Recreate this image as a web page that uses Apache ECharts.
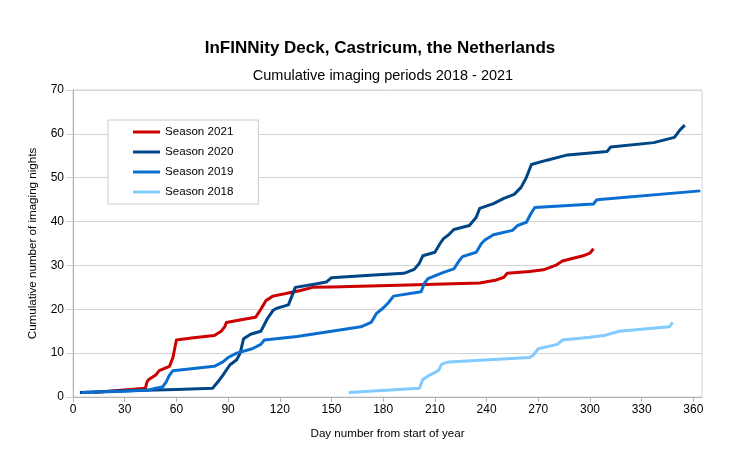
<!DOCTYPE html>
<html>
<head>
<meta charset="UTF-8" />
<title>InFINNity Deck cumulative imaging</title>
<script src="https://cdn.jsdelivr.net/npm/echarts@6/dist/echarts.min.js"></script>
<style>
html, body { margin: 0; padding: 0; background: #fff; }
</style>
</head>
<body>
<div id="chart" style="width: 750px; height: 468px;"></div>
<script>
// season names in legend order
var seasons = ["Season 2021", "Season 2020", "Season 2019", "Season 2018"];

// [day of year, cumulative nights]
var season2021 = [
  [12, 1], [42, 2], [43, 3.5], [44, 4], [48, 5], [50, 6], [56, 7], [58, 9], [59, 11],
  [60, 13], [70, 13.5], [82, 14], [86, 15], [88, 16], [89, 17], [100, 17.8], [106, 18.2],
  [109, 20], [112, 22], [116, 23], [125, 23.7], [132, 24.3], [139, 25], [150, 25.1],
  [200, 25.6], [236, 26], [245, 26.6], [250, 27.3], [252, 28.2], [265, 28.6], [273, 29],
  [280, 30], [284, 31], [296, 32.2], [300, 32.8], [302, 33.8]
];
var season2020 = [
  [4, 1], [30, 1.4], [60, 1.7], [81, 2], [84, 3.4], [87, 5], [91, 7.3], [95, 8.5], [97, 10],
  [99, 13.3], [103, 14.3], [109, 15], [111, 16.5], [113, 18], [116, 19.7], [118, 20.2],
  [125, 21], [127, 23], [129, 25], [140, 25.7], [147, 26.2], [150, 27.2], [170, 27.7],
  [192, 28.2], [198, 29.1], [201, 30.5], [203, 32.2], [210, 33], [213, 35], [215, 36.1],
  [218, 37], [221, 38.2], [230, 39.1], [234, 41], [236, 43], [244, 44.1], [250, 45.3],
  [256, 46.2], [260, 47.8], [263, 50], [266, 53], [275, 54], [287, 55.2], [310, 56],
  [312, 57], [337, 58], [349, 59.2], [352, 60.8], [355, 62]
];
var season2019 = [
  [5, 1], [30, 1.3], [44, 1.6], [48, 2], [52, 2.3], [54, 3.4], [56, 5], [58, 6], [70, 6.5],
  [82, 7], [87, 8], [90, 9], [95, 10], [104, 11], [109, 12], [111, 13], [130, 13.8],
  [150, 15], [167, 16], [173, 17], [176, 19], [180, 20.3], [183, 21.5], [186, 23],
  [202, 24], [204, 26], [206, 27], [215, 28.4], [221, 29.2], [224, 31], [226, 32],
  [234, 33], [237, 35], [239, 35.8], [244, 37], [255, 38], [258, 39.1], [263, 39.8],
  [266, 42], [268, 43.2], [302, 44], [304, 45], [364, 47]
];
var season2018 = [
  [160, 1], [201, 2], [203, 4], [207, 5], [212, 6], [214, 7.5], [218, 8], [265, 9],
  [267, 9.5], [270, 11], [281, 12], [284, 13], [300, 13.6], [308, 14], [317, 15],
  [346, 16], [348, 17]
];

var seasonData = [season2021, season2020, season2019, season2018];
var colors = ["#cc0000", "#004586", "#0a6ed1", "#83caff"];

var myChart = echarts.init(document.getElementById("chart"));

var font = "Liberation Sans, Arial, sans-serif";

var option = {
  animation: false,
  backgroundColor: "#ffffff",
  title: [
    {
      text: "InFINNity Deck, Castricum, the Netherlands",
      left: 375,
      top: 35,
      textAlign: "center",
      textStyle: { fontFamily: font, fontSize: 17, fontWeight: "bold", color: "#000" }
    },
    {
      text: "Cumulative imaging periods 2018 - 2021",
      left: 378,
      top: 63,
      textAlign: "center",
      textStyle: { fontFamily: font, fontSize: 14.5, fontWeight: "normal", color: "#000" }
    }
  ],
  legend: {
    data: seasons,
    orient: "vertical",
    left: 108,
    top: 120,
    padding: [5, 25, 5, 25],
    itemWidth: 27,
    itemHeight: 3,
    itemGap: 6,
    icon: "rect",
    backgroundColor: "#fff",
    borderColor: "#cccccc",
    borderWidth: 1,
    textStyle: { fontFamily: font, fontSize: 11.6, color: "#000", lineHeight: 14 }
  },
  grid: {
    left: 73,
    right: 48,
    top: 90,
    bottom: 71,
    show: true,
    borderColor: "#d4d4d4",
    borderWidth: 1
  },
  xAxis: {
    type: "value",
    min: 0,
    max: 365,
    interval: 30,
    name: "Day number from start of year",
    nameLocation: "middle",
    nameGap: 31,
    nameTextStyle: { fontFamily: font, fontSize: 11.6, color: "#000" },
    axisLine: { show: true, lineStyle: { color: "#b3b3b3" } },
    axisTick: { show: true, length: 5, lineStyle: { color: "#b3b3b3" } },
    axisLabel: { fontFamily: font, fontSize: 12, color: "#000", margin: 7, showMaxLabel: false },
    splitLine: { show: false }
  },
  yAxis: {
    type: "value",
    min: 0,
    max: 70,
    interval: 10,
    name: "Cumulative number of imaging nights",
    nameLocation: "middle",
    nameGap: 34,
    nameTextStyle: { fontFamily: font, fontSize: 11.6, color: "#000" },
    axisLine: { show: true, lineStyle: { color: "#b3b3b3" } },
    axisTick: { show: true, length: 7, lineStyle: { color: "#d4d4d4" } },
    axisLabel: { fontFamily: font, fontSize: 12, color: "#000", margin: 9 },
    splitLine: { show: true, lineStyle: { color: "#d4d4d4" } }
  },
  series: seasons.map(function (name, i) {
    return {
      name: name,
      type: "line",
      data: seasonData[i],
      showSymbol: false,
      color: colors[i],
      lineStyle: { width: 3, color: colors[i], join: "round" }
    };
  })
};

myChart.setOption(option);
</script>
</body>
</html>
